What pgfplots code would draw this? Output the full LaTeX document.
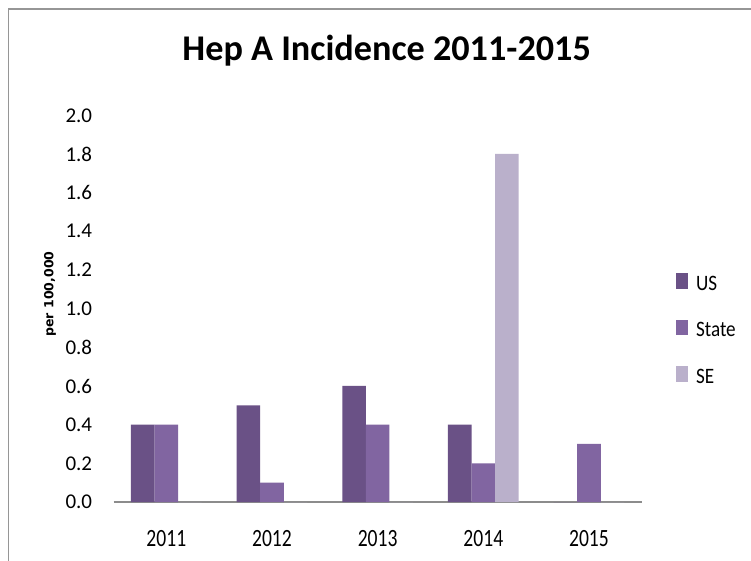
\documentclass[border=0pt]{standalone}
\usepackage{fontspec}
\setmainfont{Carlito}
\newfontfamily\xtf[FakeStretch=0.79]{Carlito}
\newfontfamily\lgf[FakeStretch=0.87]{Carlito}
\newfontfamily\dvs{DejaVu Sans}
\usepackage{pgfplots}
\pgfplotsset{compat=1.18}
\definecolor{cUS}{RGB}{106,81,134}
\definecolor{cST}{RGB}{129,101,161}
\definecolor{cSE}{RGB}{186,176,203}
\definecolor{axgray}{RGB}{140,140,140}
\definecolor{framegray}{RGB}{150,150,150}
\pgfplotsset{mylegend/.style={legend image code/.code={\fill[##1] (0pt,1.5pt) rectangle (12pt,17.2pt);}}}
\begin{document}
\begin{tikzpicture}[x=1pt,y=1pt]
\useasboundingbox (0,0) rectangle (751,560);
\fill[white] (0,0) rectangle (751,560);
\draw[framegray, line width=1.2pt] (8.6,-5) -- (8.6,551) -- (760,551);
\begin{axis}[
  at={(113.5pt,58pt)}, anchor=south west, scale only axis,
  width=528.3pt, height=386.7pt,
  xmin=-0.5, xmax=4.5, ymin=0, ymax=2,
  ybar=0pt, bar width=23.6pt,
  axis lines*=left,
  y axis line style={draw=none},
  x axis line style={axgray, line width=1.5pt},
  major tick length=0pt, tick style={draw=none},
  xtick={0,1,2,3,4}, xticklabels={2011,2012,2013,2014,2015},
  ytick={0,0.2,0.4,0.6,0.8,1.0,1.2,1.4,1.6,1.8,2.0},
  yticklabels={0.0,0.2,0.4,0.6,0.8,1.0,1.2,1.4,1.6,1.8,2.0},
  xticklabel style={font=\xtf\fontsize{24.8}{26}\selectfont, inner sep=0pt, anchor=center, yshift=-37pt},
  yticklabel style={font=\fontsize{21}{24}\selectfont, inner sep=0pt, anchor=east, xshift=-21.2pt},
  ylabel={per 100,000},
  ylabel style={font=\dvs\bfseries\fontsize{12.5}{14}\selectfont, at={(axis description cs:-0.1202,0.5379)}, anchor=center, inner sep=0pt},
  title={Hep A Incidence 2011-2015},
  title style={font=\bfseries\fontsize{36.2}{40}\selectfont, at={(axis description cs:0.5171,1.1257)}, anchor=base, yshift=0pt, inner sep=0pt},
  legend style={at={(axis description cs:1.0648,0.5927)}, anchor=north west, draw=none, fill=none, inner sep=0pt, outer sep=0pt, row sep=29.5pt, font=\lgf\fontsize{22}{24}\selectfont, cells={anchor=base west}, nodes={inner sep=0pt, text depth=0pt}, /tikz/every odd column/.append style={column sep=8pt}},
  mylegend,
]
\addplot[fill=cUS, draw=none, mylegend] coordinates {(0,0.4) (1,0.5) (2,0.6) (3,0.4) (4,0)};
\addplot[fill=cST, draw=none, mylegend] coordinates {(0,0.4) (1,0.1) (2,0.4) (3,0.2) (4,0.3)};
\addplot[fill=cSE, draw=none, mylegend] coordinates {(0,0) (1,0) (2,0) (3,1.8) (4,0)};
\legend{US,State,SE}
\end{axis}
\end{tikzpicture}
\end{document}
